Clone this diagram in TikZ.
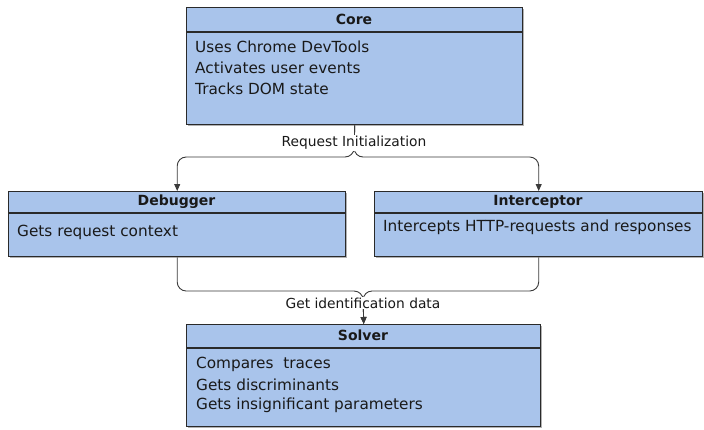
\documentclass[tikz,border=0pt]{standalone}
\usepackage{fontspec}
\setmainfont{DejaVu Sans}
\usetikzlibrary{arrows.meta,shadows}
\definecolor{boxfill}{HTML}{A9C4EB}
\definecolor{boxline}{HTML}{2A2A2A}
\definecolor{conn}{HTML}{3A3A3A}
\tikzset{
  box/.style={draw=boxline, line width=1.4pt, fill=boxfill, rectangle, inner sep=0pt, anchor=north west,
    drop shadow={shadow xshift=1.5pt, shadow yshift=-1.5pt, fill=black, opacity=0.3}},
  sepline/.style={draw=boxline, line width=1.2pt},
  hdr/.style={font=\fontsize{14}{16}\selectfont\bfseries, inner sep=0pt, text=black!90},
  body/.style={font=\fontsize{15.3}{18}\selectfont, inner sep=0pt, anchor=west, text=black!90},
  lbl/.style={font=\fontsize{13.8}{16}\selectfont, fill=white, inner sep=1pt, text=black!90},
  conn/.style={draw=conn, line width=0.9pt, rounded corners=9pt, -{Triangle[length=7pt,width=6pt]}},
}
\begin{document}
\begin{tikzpicture}[x=1pt,y=1pt]
\useasboundingbox (0,0) rectangle (704,-429);

% Core
\node[box, minimum width=336pt, minimum height=117pt] (core) at (186,-7) {};
\draw[sepline] (186,-32) -- (522,-32);
\node[hdr] (coreh) at (354,-19.5) {Core};
\node[body] (core1) at (195,-47) {Uses Chrome DevTools};
\node[body] (core2) at (195,-68) {Activates user events};
\node[body] (core3) at (195,-89) {Tracks DOM state};

% Debugger
\node[box, minimum width=337pt, minimum height=65pt] (dbg) at (8,-191) {};
\draw[sepline] (8,-213) -- (345,-213);
\node[hdr] (dbgh) at (176.5,-202) {Debugger};
\node[body] (dbg1) at (17,-232) {Gets request context};

% Interceptor
\node[box, minimum width=328pt, minimum height=65pt] (icp) at (374,-191) {};
\draw[sepline] (374,-213) -- (702,-213);
\node[hdr] (icph) at (538,-202) {Interceptor};
\node[body] (icp1) at (383,-227) {Intercepts HTTP-requests and responses};

% Solver
\node[box, minimum width=354pt, minimum height=102pt] (sol) at (186,-324) {};
\draw[sepline] (186,-348) -- (540,-348);
\node[hdr] (solh) at (363,-335.5) {Solver};
\node[body] (sol1) at (196,-364) {Compares\ \ traces};
\node[body] (sol2) at (196,-384.5) {Gets discriminants};
\node[body] (sol3) at (196,-405) {Gets insignificant parameters};

% connectors
\coordinate (split) at (354,-157);
\coordinate (merge) at (363,-291);
\draw[conn] (core.south) -- (split) -| (dbg.north);
\draw[conn] (core.south) -- (split) -| (icp.north);
\node[lbl] (req) at (354,-143) {Request Initialization};

\draw[conn] (dbg.south) |- (merge) -- (sol.north);
\draw[conn] (icp.south) |- (merge) -- (sol.north);
\node[lbl] (gid) at (363,-303) {Get identification data};
\end{tikzpicture}
\end{document}
